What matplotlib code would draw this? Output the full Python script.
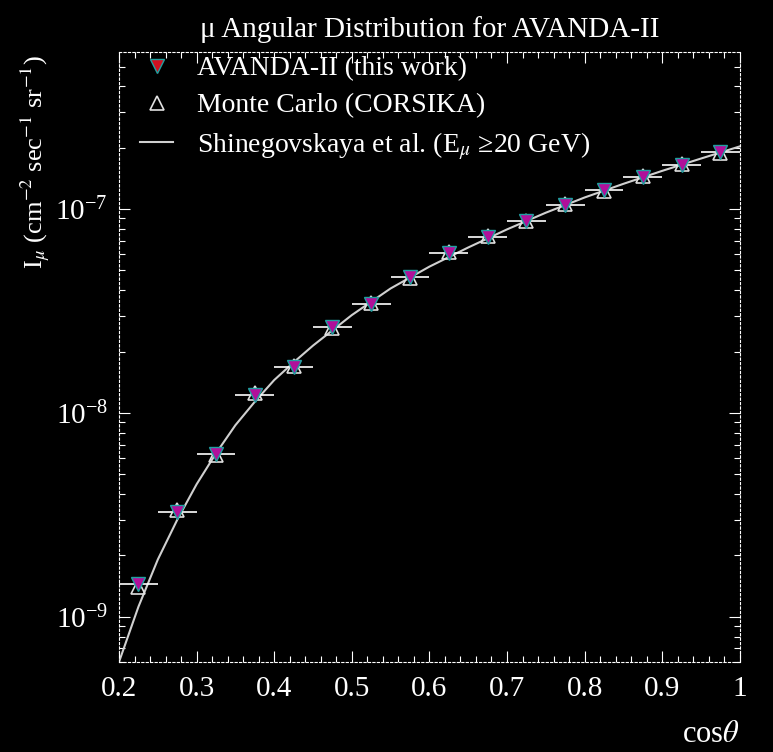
import matplotlib
matplotlib.use("Agg")
import matplotlib.pyplot as plt
from matplotlib.lines import Line2D
from matplotlib.ticker import NullFormatter

# cos(theta) bins and measured intensities
cos_theta = [0.225, 0.275, 0.325, 0.375, 0.425, 0.475, 0.525, 0.575,
             0.625, 0.675, 0.725, 0.775, 0.825, 0.875, 0.925, 0.975]
avanda = [1.44e-9, 3.25e-9, 6.30e-9, 1.23e-8, 1.68e-8, 2.64e-8, 3.42e-8, 4.65e-8,
          6.09e-8, 7.29e-8, 8.74e-8, 1.05e-7, 1.24e-7, 1.44e-7, 1.64e-7, 1.90e-7]
avanda_err = [0.08e-9, 0.15e-9, 0.25e-9, 0.4e-9, 0.5e-9, 0.7e-9, 0.9e-9, 1.1e-9,
              1.3e-9, 1.5e-9, 1.7e-9, 2.0e-9, 2.3e-9, 2.6e-9, 2.9e-9, 3.2e-9]
bin_half = 0.025
corsika = [1.40e-9, 3.35e-9, 6.20e-9, 1.25e-8, 1.70e-8, 2.60e-8, 3.45e-8, 4.60e-8,
           6.15e-8, 7.35e-8, 8.70e-8, 1.06e-7, 1.22e-7, 1.45e-7, 1.66e-7, 1.88e-7]

# Shinegovskaya et al. curve
theory_x = [0.2, 0.225, 0.25, 0.275, 0.3, 0.325, 0.35, 0.375, 0.4, 0.425, 0.45,
            0.5, 0.55, 0.6, 0.65, 0.7, 0.75, 0.8, 0.85, 0.9, 0.95, 1.0]
theory_y = [6.01e-10, 1.12e-9, 1.91e-9, 2.99e-9, 4.47e-9, 6.34e-9, 8.71e-9, 1.135e-8,
            1.45e-8, 1.77e-8, 2.14e-8, 3.02e-8, 4.08e-8, 5.22e-8, 6.48e-8, 7.95e-8,
            9.60e-8, 1.14e-7, 1.33e-7, 1.54e-7, 1.77e-7, 2.03e-7]

plt.rcParams['font.family'] = ['Liberation Serif', 'DejaVu Serif']
plt.rcParams['mathtext.fontset'] = 'stix'

fg = 'white'
fig = plt.figure(figsize=(7.73, 7.52), dpi=100, facecolor='black')
ax = fig.add_axes([0.154, 0.1197, 0.803, 0.8112], facecolor='black')

ax.plot(theory_x, theory_y, color='#d0d0d0', lw=1.5, zorder=2)
ax.errorbar(cos_theta, avanda, xerr=bin_half, yerr=avanda_err, fmt='none',
            ecolor=fg, elinewidth=1.2, capsize=0, zorder=3)
ax.plot(cos_theta, corsika, ls='none', marker='^', ms=10, mfc='none',
        mec='#e0e0e0', mew=1.2, zorder=4)
ax.plot(cos_theta, avanda, ls='none', marker='v', ms=10, mfc='#b0109a',
        mec='#20a0a0', mew=1.0, zorder=5)

ax.set_yscale('log')
ax.set_xlim(0.2, 1.0)
ax.set_ylim(6.0e-10, 5.9e-7)
ax.yaxis.set_minor_formatter(NullFormatter())
ax.set_xticks([0.2, 0.3, 0.4, 0.5, 0.6, 0.7, 0.8, 0.9, 1.0])
ax.set_xticklabels(['0.2', '0.3', '0.4', '0.5', '0.6', '0.7', '0.8', '0.9', '1'])
ax.set_xticks([0.2 + 0.02 * i for i in range(41)], minor=True)
ax.tick_params(which='both', direction='in', top=True, right=True, colors=fg,
               labelsize=21)
ax.tick_params(which='major', length=8, width=0.8)
ax.tick_params(which='minor', length=4, width=0.8)
ax.tick_params(axis='y', pad=8)
ax.tick_params(axis='x', pad=10)
for s in ax.spines.values():
    s.set_color(fg)
    s.set_linewidth(0.8)
    s.set_linestyle((0, (2, 2)))

fig.text(0.5557, 1 - 30 / 752, 'μ Angular Distribution for AVANDA-II', color=fg,
         fontsize=21, ha='center', va='center')
ax.set_xlabel(r'cos$\theta$', color=fg, fontsize=22)
ax.xaxis.set_label_coords(1.0, -0.095)
ax.xaxis.label.set_horizontalalignment('right')
fig.text(35 / 773, 1 - 55 / 752, r'I$_{\mu}$ (cm$^{-2}$ sec$^{-1}$ sr$^{-1}$)',
         color=fg, fontsize=19, rotation=90, ha='center', va='top')

handles = [
    Line2D([], [], ls='none', marker='v', ms=10, mfc='#d01020', mec='#20a0a0'),
    Line2D([], [], ls='none', marker='^', ms=10, mfc='none', mec='#e0e0e0', mew=1.2),
    Line2D([], [], color='#d0d0d0', lw=1.5),
]
labels = ['AVANDA-II (this work)', 'Monte Carlo (CORSIKA)',
          'Shinegovskaya et al. (E$_{\\mu}$ ≥20 GeV)']
leg = fig.legend(handles, labels, loc='upper left', bbox_to_anchor=(140 / 773, 1 - 56 / 752),
                 frameon=False, fontsize=20, handlelength=1.2, handletextpad=0.85,
                 labelspacing=0.42, borderpad=0, borderaxespad=0)
for t in leg.get_texts():
    t.set_color(fg)

fig.savefig('out.png', dpi=100, facecolor='black')
